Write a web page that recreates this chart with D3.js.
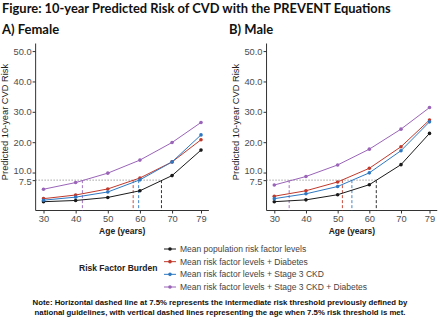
<!DOCTYPE html>
<html>
<head>
<meta charset="utf-8">
<style>
  body { margin: 0; background: #fff; }
  svg { display: block; }
  .tick text { font-family: "Liberation Sans", Arial, sans-serif; font-size: 9.3px; fill: #4d4d4d; }
  .tick line { stroke: #333; }
  .axis path { stroke: #333; }
</style>
</head>
<body>
<svg id="chart" width="440" height="321"></svg>
<script src="https://d3js.org/d3.v7.min.js"></script>
<script>
// ages on the x axis
var ages = [30, 40, 50, 60, 70, 79];
var yTicks = [7.5, 10, 20, 30, 40, 50];
var seriesNames = [
  "Mean population risk factor levels",
  "Mean risk factor levels + Diabetes",
  "Mean risk factor levels + Stage 3 CKD",
  "Mean risk factor levels + Stage 3 CKD + Diabetes"
];
var colors = ["#1a1a1a", "#c0392b", "#2e78c2", "#9a64b8"];

// female predicted risk (%) per series
var femaleBase     = [0.4, 0.8, 1.8, 4.0, 9.0, 17.4];
var femaleDiabetes = [1.4, 2.6, 4.6, 8.2, 13.5, 20.8];
var femaleCKD      = [0.9, 1.9, 3.6, 7.6, 13.5, 22.4];
var femaleBoth     = [4.5, 6.7, 9.8, 14.1, 19.9, 26.5];
var femaleThreshold = [66.7, 57.9, 59.6, 42.1]; // age at which 7.5% is met

// male predicted risk (%) per series
var maleBase     = [0.4, 1.0, 2.7, 6.0, 12.6, 22.9];
var maleDiabetes = [2.2, 4.0, 6.9, 11.4, 18.5, 27.3];
var maleCKD      = [1.4, 3.0, 5.4, 9.9, 17.2, 26.7];
var maleBoth     = [5.9, 8.7, 12.5, 17.7, 24.3, 31.4];
var maleThreshold = [62.2, 51.5, 54.5, 34.7];

var svg = d3.select("#chart");
var font = "'Liberation Sans', Arial, sans-serif";

var y = d3.scaleLinear().domain([-2.5, 52.5]).range([210.5, 43.5]);

function panel(series, thresholds, x0, x1, titleX, label) {
  var x = d3.scaleLinear().domain([30, 79]).range([x0, x1]);
  var g = svg.append("g");
  var left = x(27.55), right = x(81.45);

  g.append("text").attr("x", titleX).attr("y", 34)
    .style("font-family", "Lato, sans-serif").style("font-weight", "bold")
    .style("font-size", "13px").attr("fill", "#111").text(label);

  // axes
  g.append("line").attr("x1", left).attr("x2", right).attr("y1", 210.5).attr("y2", 210.5).attr("stroke", "#333");
  g.append("line").attr("x1", left).attr("x2", left).attr("y1", 43.5).attr("y2", 210.5).attr("stroke", "#333");

  var xa = g.append("g").attr("class", "axis").attr("transform", "translate(0,210.5)")
    .call(d3.axisBottom(x).tickValues(ages).tickSize(3).tickPadding(2));
  xa.select(".domain").remove();
  var ya = g.append("g").attr("class", "axis").attr("transform", "translate(" + left + ",0)")
    .call(d3.axisLeft(y).tickValues(yTicks).tickSize(3).tickPadding(1).tickFormat(d3.format(".1f")));
  ya.select(".domain").remove();
  // nudge the crowded 10.0 / 7.5 labels apart a little
  ya.selectAll(".tick text").attr("dy", function(d) {
    return d === 10 ? "0.1em" : d === 7.5 ? "0.45em" : "0.32em";
  });

  g.append("text").attr("transform", "translate(" + (left - 28) + ",122) rotate(-90)")
    .attr("text-anchor", "middle").style("font-family", font).style("font-size", "9.3px")
    .attr("fill", "#222").text("Predicted 10-year CVD Risk");
  g.append("text").attr("x", (left + right) / 2).attr("y", 233.5).attr("text-anchor", "middle")
    .style("font-family", font).style("font-weight", "bold").style("font-size", "8.5px")
    .attr("fill", "#222").text("Age (years)");

  // threshold lines
  g.append("line").attr("x1", left).attr("x2", x(d3.max(thresholds)))
    .attr("y1", y(7.5)).attr("y2", y(7.5))
    .attr("stroke", "#666").attr("stroke-width", 0.9).attr("stroke-dasharray", "1,2");
  thresholds.forEach(function(t, i) {
    g.append("line").attr("x1", x(t)).attr("x2", x(t)).attr("y1", y(7.5)).attr("y2", 210.5)
      .attr("stroke", colors[i]).attr("stroke-width", 0.9).attr("stroke-dasharray", "3,2");
  });

  var line = d3.line().x(function(d, i) { return x(ages[i]); }).y(function(d) { return y(d); });
  series.forEach(function(vals, i) {
    g.append("path").attr("d", line(vals)).attr("fill", "none")
      .attr("stroke", colors[i]).attr("stroke-width", 1);
    g.selectAll(null).data(vals).enter().append("circle")
      .attr("cx", function(d, j) { return x(ages[j]); })
      .attr("cy", function(d) { return y(d); })
      .attr("r", 1.8).attr("fill", colors[i]);
  });
}

svg.append("text").attr("x", 2).attr("y", 13)
  .style("font-family", "Lato, sans-serif").style("font-weight", "bold")
  .style("font-size", "12.9px").attr("fill", "#111")
  .text("Figure: 10-year Predicted Risk of CVD with the PREVENT Equations");

panel([femaleBase, femaleDiabetes, femaleCKD, femaleBoth], femaleThreshold, 43.5, 201, 2, "A) Female");
panel([maleBase, maleDiabetes, maleCKD, maleBoth], maleThreshold, 274.3, 429.5, 229, "B) Male");

// legend
svg.append("text").attr("x", 79).attr("y", 270.5)
  .style("font-family", font).style("font-weight", "bold").style("font-size", "8.5px")
  .attr("fill", "#222").text("Risk Factor Burden");
var legendY = d3.scaleLinear().domain([0, 3]).range([249, 287]);
seriesNames.forEach(function(name, i) {
  var ly = legendY(i);
  svg.append("line").attr("x1", 164).attr("x2", 176).attr("y1", ly).attr("y2", ly)
    .attr("stroke", colors[i]).attr("stroke-width", 1);
  svg.append("circle").attr("cx", 170).attr("cy", ly).attr("r", 1.8).attr("fill", colors[i]);
  svg.append("text").attr("x", 180).attr("y", ly + 3)
    .style("font-family", font).style("font-size", "8.5px").attr("fill", "#444").text(name);
});

// note
var note = [
  "Note: Horizontal dashed line at 7.5% represents the intermediate risk threshold previously defined by",
  "national guidelines, with vertical dashed lines representing the age when 7.5% risk threshold is met."
];
note.forEach(function(t, i) {
  svg.append("text").attr("x", 220).attr("y", 304.5 + i * 10.5).attr("text-anchor", "middle")
    .style("font-family", font).style("font-weight", "bold").style("font-size", "7.8px")
    .attr("fill", "#111").text(t);
});
</script>
</body>
</html>
